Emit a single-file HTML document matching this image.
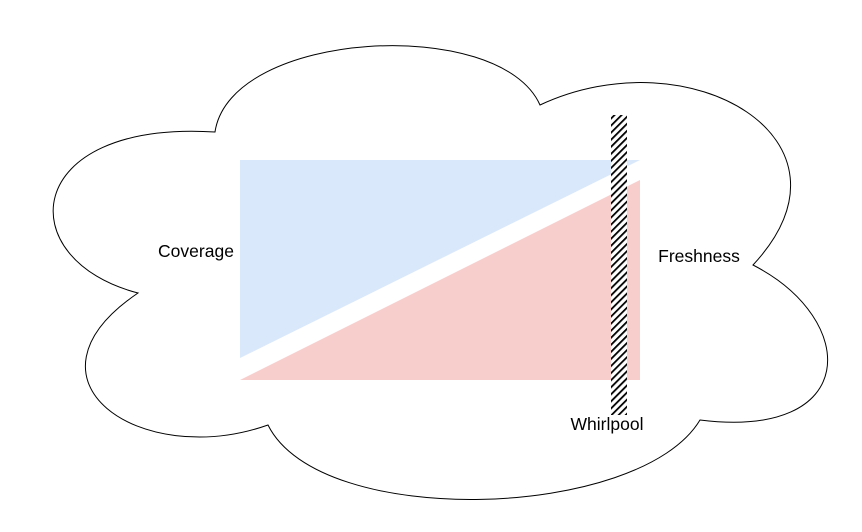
<!DOCTYPE html>
<html><head><meta charset="utf-8"><style>
html,body{margin:0;padding:0;background:#fff;}
svg{display:block;font-family:"Liberation Sans",sans-serif;}
</style></head><body>
<svg width="862" height="532" viewBox="0 0 862 532">
<defs>
<pattern id="hatch" patternUnits="userSpaceOnUse" width="5" height="5" patternTransform="rotate(45)">
<rect width="5" height="5" fill="#fff"/>
<rect x="0" y="0" width="1.8" height="5" fill="#000"/>
</pattern>
</defs>
<path d="M215,132 C230,30 500,15 540,105 C690,35 870,140 753,265 C860,320 860,440 700,420 C640,520 320,530 268,425 C140,470 10,380 138,293 C10,260 20,120 215,132 Z" fill="#fff" stroke="#000" stroke-width="1"/>
<polygon points="240,160 640,160 240,358" fill="#dae8fc"/>
<polygon points="240,380 640,180 640,380" fill="#f8cecc"/>
<rect x="611" y="115" width="16" height="300" fill="url(#hatch)"/>
<text x="196" y="257" font-size="17.5" text-anchor="middle">Coverage</text>
<text x="699" y="262" font-size="17.5" text-anchor="middle">Freshness</text>
<text x="607" y="430" font-size="17.5" text-anchor="middle">Whirlpool</text>
</svg>
</body></html>
